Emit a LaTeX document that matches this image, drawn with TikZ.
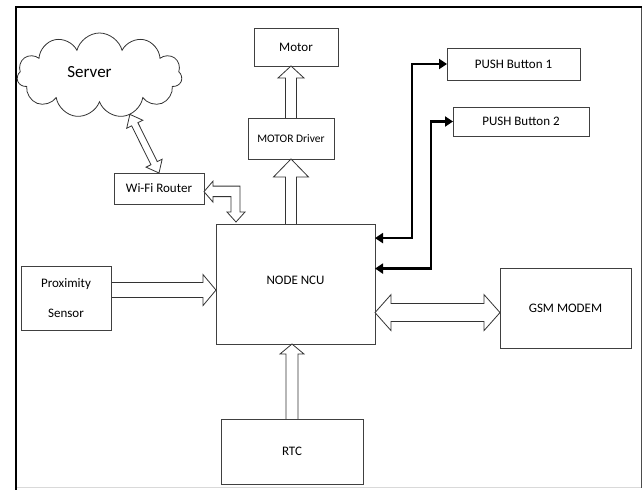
\documentclass[tikz,border=0pt]{standalone}
\usepackage{fontspec}
\setmainfont{Carlito}
\usetikzlibrary{calc,shapes.symbols,arrows.meta,backgrounds}

\tikzset{
  blk/.style={draw=black!75, line width=0.9pt, outer sep=0pt, inner sep=2pt, font=\fontsize{13}{16}\selectfont},
  fat/.style={draw=black!80, line width=0.8pt, fill=white, line join=miter},
  bus/.style={line width=2.6pt, {Triangle[length=8pt,width=10pt]}-{Triangle[length=8pt,width=10pt]}}
}

% hollow block arrow: from, to, half shaft, half head, head length
\newcommand{\blockarrow}[5]{%
  \draw[fat] ($(#1)!#3!90:(#2)$) -- ($(#2)!#5!(#1)!#3!90:(#2)$)
    -- ($(#2)!#5!(#1)!#4!90:(#2)$) -- (#2)
    -- ($(#2)!#5!(#1)!#4!-90:(#2)$) -- ($(#2)!#5!(#1)!#3!-90:(#2)$)
    -- ($(#1)!#3!-90:(#2)$);}
% same, heads at both ends
\newcommand{\dblarrow}[5]{%
  \draw[fat] (#1) -- ($(#1)!#5!(#2)!#4!90:(#2)$) -- ($(#1)!#5!(#2)!#3!90:(#2)$)
    -- ($(#2)!#5!(#1)!#3!90:(#2)$) -- ($(#2)!#5!(#1)!#4!90:(#2)$) -- (#2)
    -- ($(#2)!#5!(#1)!#4!-90:(#2)$) -- ($(#2)!#5!(#1)!#3!-90:(#2)$)
    -- ($(#1)!#5!(#2)!#3!-90:(#2)$) -- ($(#1)!#5!(#2)!#4!-90:(#2)$) -- cycle;}

\begin{document}
\begin{tikzpicture}[x=1pt,y=-1pt]
\useasboundingbox (0,0) rectangle (643,490);
\draw[black!15] (16,487.5) -- (641.5,487.5);
\draw[black!70, line width=1pt] (641.5,7) -- (641.5,488);
\draw[line width=2.6pt] (16,490) -- (16,7) -- (642,7);

\node[cloud, draw=black!80, cloud puffs=11, aspect=1.9, minimum width=165pt, minimum height=85pt, line width=0.8pt, outer sep=0pt,
  label={[font=\fontsize{17}{20}\selectfont, xshift=-10pt, yshift=3pt]center:Server}] (server) at (99.5,75.5) {};
\node[blk, minimum width=84pt, minimum height=38pt] (motor) at (296,47) {Motor};
\node[blk, minimum width=86pt, minimum height=41pt, font=\fontsize{11.5}{14}\selectfont] (driver) at (291,138.5) {MOTOR Driver};
\node[blk, minimum width=90pt, minimum height=31pt] (wifi) at (159,188.5) {Wi-Fi Router};
\node[blk, minimum width=159pt, minimum height=120pt, label={[font=\fontsize{13}{16}\selectfont, yshift=4pt]center:NODE NCU}] (ncu) at (295.5,284) {};
\node[blk, minimum width=133pt, minimum height=32pt] (push1) at (513.5,64) {PUSH Button 1};
\node[blk, minimum width=136pt, minimum height=29pt] (push2) at (521,121.5) {PUSH Button 2};
\node[blk, minimum width=90pt, minimum height=64pt, align=center] (prox) at (66,298) {Proximity\\[14pt]Sensor};
\node[blk, minimum width=142pt, minimum height=65pt] (rtc) at (292,451.5) {RTC};
\node[blk, minimum width=131pt, minimum height=80pt] (gsm) at (565.5,308) {GSM MODEM};

\begin{pgfonlayer}{background}
\blockarrow{driver.north}{driver.north |- motor.south}{5.5pt}{13pt}{12pt}
\blockarrow{driver.south |- ncu.north}{driver.south}{5.5pt}{17.5pt}{18pt}
\blockarrow{rtc.north}{rtc.north |- ncu.south}{6pt}{12pt}{10pt}
\blockarrow{prox.10}{prox.10 -| ncu.west}{7.5pt}{15.5pt}{13pt}
\dblarrow{gsm.184 -| ncu.east}{gsm.184}{9pt}{18pt}{16pt}
\dblarrow{server.-52}{wifi.north}{3.5pt}{9pt}{11pt}
\coordinate (wtip) at (wifi.-4);
\coordinate (ntip) at ([xshift=20pt,yshift=2pt]ncu.north west);
\draw[fat] (wtip) -- ++(9,-10.5) -- ++(0,5) -| ([xshift=4pt,yshift=10pt]ntip) -- ++(5,0) -- (ntip)
  -- ++(-9,-10) -- ++(4,0) |- ([xshift=9pt,yshift=-5pt]wtip) -- ++(0,5.5) -- cycle;
\end{pgfonlayer}

\draw[bus] (ncu.30) -| ([xshift=-35pt]push1.west) -- (push1.west);
\draw[bus] (ncu.11) -| ([xshift=-22pt]push2.west) -- (push2.west);
\end{tikzpicture}
\end{document}
